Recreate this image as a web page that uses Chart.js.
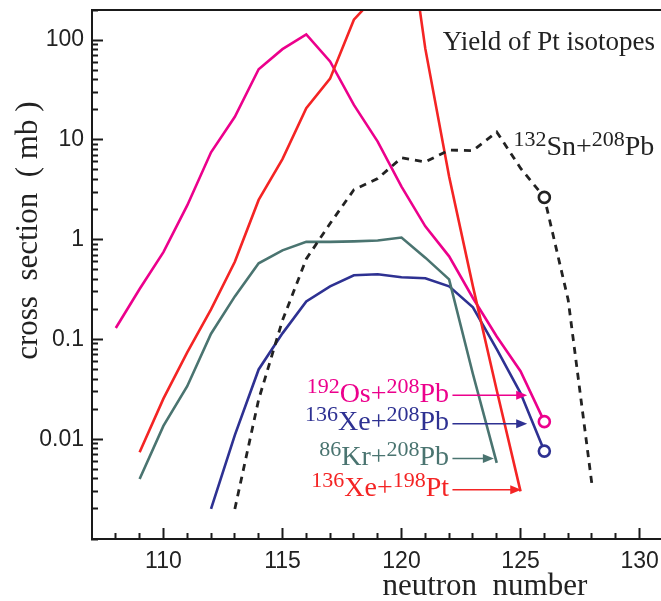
<!DOCTYPE html>
<html lang="en">
<head>
    <meta charset="UTF-8">
    <title>Yield of Pt isotopes</title>
    <script src="https://cdn.jsdelivr.net/npm/chart.js"></script>
    <style>
        * { margin: 0; padding: 0; box-sizing: border-box; }
        body { background: #fff; width: 661px; height: 601px; overflow: hidden; }
        canvas { display: block; }
    </style>
</head>
<body>
    <canvas id="yieldChart" width="661" height="601"></canvas>

    <script>
        // Neutron numbers and cross sections (mb) for each reaction
        const osN   = [108, 109, 110, 111, 112, 113, 114, 115, 116, 117, 118, 119, 120, 121, 122, 123, 124, 125, 126];
        const osPb  = [0.13, 0.32, 0.75, 2.2, 7.5, 17, 51, 81, 114, 61, 22.4, 9.6, 3.4, 1.36, 0.68, 0.26, 0.107, 0.048, 0.015];

        const xePbN = [112, 113, 114, 115, 116, 117, 118, 119, 120, 121, 122, 123, 124, 125, 126];
        const xePb  = [0.002, 0.011, 0.05, 0.115, 0.24, 0.34, 0.44, 0.45, 0.42, 0.41, 0.34, 0.21, 0.08, 0.029, 0.0076];

        const krN   = [109, 110, 111, 112, 113, 114, 115, 116, 117, 118, 119, 120, 121, 122, 123, 124];
        const krPb  = [0.004, 0.0136, 0.034, 0.114, 0.27, 0.58, 0.78, 0.95, 0.95, 0.96, 0.98, 1.05, 0.66, 0.40, 0.045, 0.0058];

        const xePtN = [109, 110, 111, 112, 113, 114, 115, 116, 117, 118, 119, 120, 121, 122, 123, 124, 125];
        const xePt  = [0.0074, 0.0255, 0.074, 0.2, 0.6, 2.5, 6.4, 20.7, 41, 160, 290, 4000, 82, 4.3, 0.34, 0.031, 0.003];

        const snN   = [113, 114, 115, 116, 117, 118, 119, 120, 121, 122, 123, 124, 125, 126, 127, 128];
        const snPb  = [0.002, 0.025, 0.155, 0.64, 1.45, 3.16, 4.1, 6.6, 6.0, 7.9, 7.8, 12, 5.2, 2.65, 0.25, 0.0035];

        // Axis tick labels
        const xTickLabels = [110, 115, 120, 125, 130];
        const yTickLabels = [0.01, 0.1, 1, 10, 100];

        // Reaction names: [superscript, text, superscript, text]
        const osName   = ['192', 'Os+', '208', 'Pb'];
        const xePbName = ['136', 'Xe+', '208', 'Pb'];
        const krName   = ['86', 'Kr+', '208', 'Pb'];
        const xePtName = ['136', 'Xe+', '198', 'Pt'];
        const snName   = ['132', 'Sn+', '208', 'Pb'];

        const colors = {
            os: '#ec008c',
            xePb: '#2e3192',
            kr: '#4a7470',
            xePt: '#f42424',
            sn: '#222222',
            axis: '#1a1a1a'
        };

        const SERIF = '"Liberation Serif", "Times New Roman", serif';
        const SANS = '"Liberation Sans", Arial, sans-serif';

        // minor ticks of the log axis: 1..9 x 10^k between 0.001 and 200
        const yTicks = [];
        for (let k = -3; k <= 2; k++) {
            for (let m = 1; m <= 9; m++) {
                const v = parseFloat((m * Math.pow(10, k)).toPrecision(3));
                if (v >= 0.001 && v <= 200) yTicks.push(v);
            }
        }
        const xTicks = [];
        for (let n = 108; n <= 130; n++) xTicks.push(n);

        function series(ns, vals, color, circle) {
            return {
                data: ns.map((n, i) => ({ x: n, y: vals[i] })),
                borderColor: color,
                backgroundColor: '#fff',
                borderWidth: 2.6,
                pointBorderColor: color,
                pointBorderWidth: 2.6,
                // open circle at N = 126 where the reference marks one
                pointRadius: circle ? ns.map(n => n === 126 ? 5.5 : 0) : 0
            };
        }

        // draws a label like 192Os+208Pb with superscripts
        function richText(g, parts, x, y, align) {
            const mainFont = '28px ' + SERIF;
            const supFont = '22px ' + SERIF;
            const widths = parts.map((p, i) => {
                g.font = i % 2 === 0 ? supFont : mainFont;
                return g.measureText(p).width;
            });
            const total = widths.reduce((s, w) => s + w, 0);
            let cx = align === 'right' ? x - total : x;
            g.textAlign = 'left';
            g.textBaseline = 'alphabetic';
            parts.forEach((p, i) => {
                g.font = i % 2 === 0 ? supFont : mainFont;
                g.fillText(p, cx, i % 2 === 0 ? y - 9 : y);
                cx += widths[i];
            });
        }

        function arrow(g, x0, x1, y, color) {
            g.strokeStyle = color;
            g.fillStyle = color;
            g.lineWidth = 1.5;
            g.beginPath();
            g.moveTo(x0, y);
            g.lineTo(x1 - 8, y);
            g.stroke();
            g.beginPath();
            g.moveTo(x1, y);
            g.lineTo(x1 - 11, y - 4.5);
            g.lineTo(x1 - 11, y + 4.5);
            g.closePath();
            g.fill();
        }

        // top frame line (ticks come from the scales' own grid options)
        const framePlugin = {
            id: 'topFrame',
            afterDraw(chart) {
                const g = chart.ctx;
                const area = chart.chartArea;
                g.save();
                g.fillStyle = colors.axis;
                g.fillRect(area.left, area.top - 1, area.right - area.left, 2);
                g.restore();
            }
        };

        // titles and reaction labels
        const labelPlugin = {
            id: 'reactionLabels',
            afterDraw(chart) {
                const g = chart.ctx;
                const area = chart.chartArea;
                const xs = chart.scales.x;
                const ys = chart.scales.y;
                g.save();

                g.fillStyle = '#222';
                g.font = '31px ' + SERIF;
                g.textAlign = 'center';
                g.textBaseline = 'alphabetic';
                g.fillText('neutron  number', xs.getPixelForValue(123.5), area.bottom + 56);
                g.save();
                g.translate(37, ys.getPixelForValue(1.23));
                g.rotate(-Math.PI / 2);
                g.fillText('cross  section  ( mb )', 0, 0);
                g.restore();

                g.font = '27px ' + SERIF;
                g.textAlign = 'right';
                g.fillText('Yield of Pt isotopes', xs.getPixelForValue(130.65), ys.getPixelForValue(79));

                g.fillStyle = colors.sn;
                richText(g, snName, xs.getPixelForValue(124.7), ys.getPixelForValue(7.1), 'left');

                const labelRight = xs.getPixelForValue(122);
                const arrowStart = xs.getPixelForValue(122.14);
                [
                    [osName, colors.os, 125.28, 0.0275],
                    [xePbName, colors.xePb, 125.28, 0.0143],
                    [krName, colors.kr, 123.88, 0.0064],
                    [xePtName, colors.xePt, 125.03, 0.00311]
                ].forEach(([name, color, tipN, level]) => {
                    const py = ys.getPixelForValue(level);
                    g.fillStyle = color;
                    richText(g, name, labelRight, py + 6.5, 'right');
                    arrow(g, arrowStart, xs.getPixelForValue(tipN), py, color);
                });
                g.restore();
            }
        };

        const snSeries = series(snN, snPb, colors.sn, true);
        snSeries.borderDash = [7, 6];
        snSeries.borderWidth = 2.8;

        // Ticks point into the plot: negative tickLength (11 px). Minor ticks are
        // cut down to 6 px with a dash pattern.
        const TICK = 11;
        const xGrid = {
            display: true,
            drawOnChartArea: false,
            drawTicks: true,
            tickLength: -TICK,
            tickWidth: 2,
            tickColor: colors.axis,
            tickBorderDash: c => xTickLabels.includes(c.tick && c.tick.value) ? [] : [7, 100]
        };
        const yGrid = {
            display: true,
            drawOnChartArea: false,
            drawTicks: true,
            tickLength: -TICK,
            tickWidth: 2,
            tickColor: colors.axis,
            tickBorderDash: c => yTickLabels.includes(c.tick && c.tick.value) ? [] : [0, 5, 7, 100]
        };

        new Chart(document.getElementById('yieldChart').getContext('2d'), {
            type: 'line',
            data: {
                datasets: [
                    snSeries,
                    series(krN, krPb, colors.kr, false),
                    series(xePtN, xePt, colors.xePt, false),
                    series(xePbN, xePb, colors.xePb, true),
                    series(osN, osPb, colors.os, true)
                ]
            },
            options: {
                responsive: false,
                animation: false,
                layout: { autoPadding: false, padding: { top: 10, right: 0, bottom: 0, left: 0 } },
                plugins: { legend: { display: false }, tooltip: { enabled: false } },
                scales: {
                    x: {
                        type: 'linear', min: 107, max: 130.9,
                        grid: xGrid,
                        border: { display: true, color: colors.axis, width: 2 },
                        afterBuildTicks: s => { s.ticks = xTicks.map(v => ({ value: v })); },
                        afterFit: s => { s.height = 62; s.paddingLeft = 0; s.paddingRight = 0; },
                        ticks: { autoSkip: false, maxRotation: 0, padding: 9 + TICK, color: '#222',
                                 font: { family: SANS, size: 23 },
                                 callback: v => xTickLabels.includes(v) ? String(v) : '' }
                    },
                    y: {
                        type: 'logarithmic', min: 0.001, max: 200,
                        grid: yGrid,
                        border: { display: true, color: colors.axis, width: 2 },
                        afterBuildTicks: s => { s.ticks = yTicks.map(v => ({ value: v })); },
                        afterFit: s => { s.width = 92; s.paddingTop = 0; s.paddingBottom = 0; },
                        ticks: { autoSkip: false, padding: 8 + TICK, color: '#222',
                                 font: { family: SANS, size: 23 },
                                 callback: v => yTickLabels.includes(v) ? String(v) : '' }
                    }
                }
            },
            plugins: [framePlugin, labelPlugin]
        });
    </script>
</body>
</html>
